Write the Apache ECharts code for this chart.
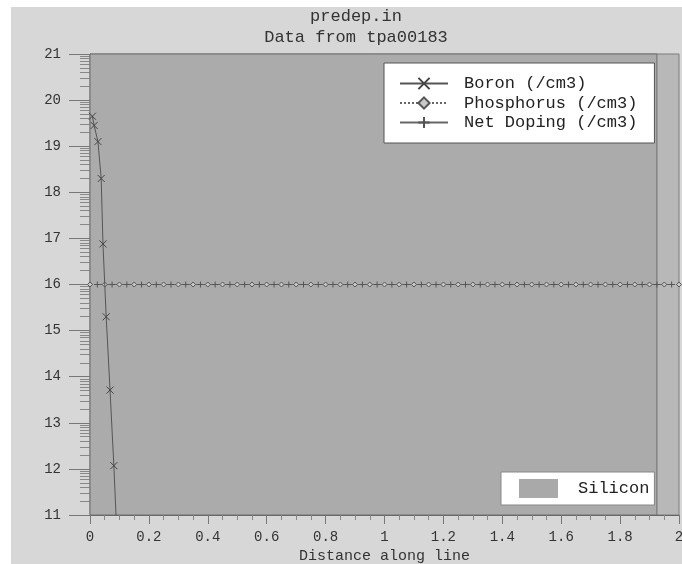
<!DOCTYPE html>
<html>
<head>
<meta charset="utf-8">
<script src="https://cdn.jsdelivr.net/npm/echarts@6/dist/echarts.min.js"></script>
<style>
html,body{margin:0;padding:0;background:#ffffff;width:682px;height:564px;overflow:hidden;}
#chart{position:absolute;left:11px;top:7px;width:671px;height:557px;background:#d7d7d7;}
</style>
</head>
<body>
<div id="chart"></div>
<script>
// ---- data ----
const titleLines = ['predep.in', 'Data from tpa00183'];
const xTicks = [0, 0.2, 0.4, 0.6, 0.8, 1, 1.2, 1.4, 1.6, 1.8, 2];
const yTicks = [11, 12, 13, 14, 15, 16, 17, 18, 19, 20, 21];
const boronX = [0.008, 0.014, 0.027, 0.038, 0.044, 0.055, 0.068, 0.081, 0.091];
const boronY = [19.65, 19.45, 19.10, 18.30, 16.88, 15.30, 13.71, 12.07, 10.60];
const phosX = [0, 0.05, 0.1, 0.15, 0.2, 0.25, 0.3, 0.35, 0.4, 0.45, 0.5, 0.55, 0.6, 0.65, 0.7, 0.75, 0.8, 0.85, 0.9, 0.95, 1, 1.05, 1.1, 1.15, 1.2, 1.25, 1.3, 1.35, 1.4, 1.45, 1.5, 1.55, 1.6, 1.65, 1.7, 1.75, 1.8, 1.85, 1.9, 1.95, 2];
const phosY = [16, 16, 16, 16, 16, 16, 16, 16, 16, 16, 16, 16, 16, 16, 16, 16, 16, 16, 16, 16, 16, 16, 16, 16, 16, 16, 16, 16, 16, 16, 16, 16, 16, 16, 16, 16, 16, 16, 16, 16, 16];
const netX = [0.025, 0.075, 0.125, 0.175, 0.225, 0.275, 0.325, 0.375, 0.425, 0.475, 0.525, 0.575, 0.625, 0.675, 0.725, 0.775, 0.825, 0.875, 0.925, 0.975, 1.025, 1.075, 1.125, 1.175, 1.225, 1.275, 1.325, 1.375, 1.425, 1.475, 1.525, 1.575, 1.625, 1.675, 1.725, 1.775, 1.825, 1.875, 1.925, 1.975];
const netY = [16, 16, 16, 16, 16, 16, 16, 16, 16, 16, 16, 16, 16, 16, 16, 16, 16, 16, 16, 16, 16, 16, 16, 16, 16, 16, 16, 16, 16, 16, 16, 16, 16, 16, 16, 16, 16, 16, 16, 16];
const siliconRange = [0, 1.925];
const seriesNames = ['Boron (/cm3)', 'Phosphorus (/cm3)', 'Net Doping (/cm3)'];
const regionName = 'Silicon';

// ---- build ----
const zip = (xs, ys) => xs.map((x, i) => [x, ys[i]]);
// log-decade minor tick positions (axis decoration)
const yMinor = [];
for (let d = yTicks[0]; d < yTicks[yTicks.length - 1]; d++) {
  for (let k = 2; k <= 9; k++) yMinor.push(d + Math.log10(k));
}
const FONT = '"Liberation Mono", "DejaVu Sans Mono", monospace';
const ink = '#333';
const lineCol = '#555';
const X_SYM = 'path://M0,0L10,10M10,0L0,10';
const PLUS_SYM = 'path://M5,0L5,10M0,5L10,5';

const chart = echarts.init(document.getElementById('chart'), null, {renderer: 'canvas'});
chart.setOption({
  backgroundColor: 'transparent',
  animation: false,
  title: {
    text: titleLines.join('\n'),
    left: 345, top: -1, textAlign: 'center', padding: 0,
    textStyle: {fontFamily: FONT, fontSize: 17, fontWeight: 'normal', color: ink, lineHeight: 21}
  },
  grid: {
    left: 79, top: 47, right: 3, bottom: 49,
    outerBoundsMode: 'none', containLabel: false,
    show: true, backgroundColor: '#b8b8b8', borderColor: '#7a7a7a', borderWidth: 1
  },
  legend: [{
    data: seriesNames,
    orient: 'vertical',
    left: 373, top: 56,
    padding: [12, 17, 12, 15],
    itemGap: 2.5,
    itemWidth: 48, itemHeight: 14,
    backgroundColor: '#ffffff',
    borderColor: '#555', borderWidth: 1,
    selectedMode: false,
    textStyle: {fontFamily: FONT, fontSize: 17, color: '#222', padding: [0, 0, 0, 11]}
  }, {
    data: [{name: regionName, icon: 'rect'}],
    orient: 'vertical',
    left: 490, top: 465,
    padding: [7, 5, 7, 18],
    itemWidth: 39, itemHeight: 19,
    backgroundColor: '#ffffff',
    borderColor: '#888', borderWidth: 1,
    selectedMode: false,
    textStyle: {fontFamily: FONT, fontSize: 17, color: '#222', padding: [0, 0, 0, 15]}
  }],
  xAxis: {
    type: 'value', min: xTicks[0], max: xTicks[xTicks.length - 1], interval: 0.2,
    name: 'Distance along line', nameLocation: 'middle', nameGap: 34,
    nameTextStyle: {fontFamily: FONT, fontSize: 15, color: ink},
    axisLine: {show: true, onZero: false, lineStyle: {color: '#666'}},
    axisTick: {show: true, inside: false, length: 9, lineStyle: {color: '#777'}},
    minorTick: {show: true, splitNumber: 4, length: 5, lineStyle: {color: '#888'}},
    splitLine: {show: false},
    axisLabel: {fontFamily: FONT, fontSize: 14, color: ink, margin: 15, showMaxLabel: true, showMinLabel: true}
  },
  yAxis: [{
    type: 'value', min: yTicks[0], max: yTicks[yTicks.length - 1], interval: 1,
    axisLine: {show: true, onZero: false, lineStyle: {color: '#666'}},
    axisTick: {show: true, length: 21, lineStyle: {color: '#777'}},
    splitLine: {show: false},
    axisLabel: {fontFamily: FONT, fontSize: 14, color: ink, margin: 29}
  }, {
    type: 'value', min: yTicks[0], max: yTicks[yTicks.length - 1], position: 'left',
    axisLine: {show: false},
    axisTick: {show: true, length: 10, customValues: yMinor, lineStyle: {color: '#888'}},
    axisLabel: {show: false},
    splitLine: {show: false}
  }],
  series: [{
    name: regionName, type: 'line', data: [], yAxisIndex: 0,
    itemStyle: {color: '#a9a9a9'},
    lineStyle: {color: '#a9a9a9'},
    silent: true, z: 1,
    markArea: {
      silent: true,
      itemStyle: {color: '#ababab', borderColor: '#6f6f6f', borderWidth: 1},
      data: [[{xAxis: siliconRange[0]}, {xAxis: siliconRange[1]}]]
    }
  }, {
    name: seriesNames[1], type: 'line', data: zip(phosX, phosY),
    symbol: 'diamond', symbolSize: 5, showSymbol: true, clip: true,
    lineStyle: {color: '#666', width: 1, type: 'dotted'},
    itemStyle: {color: '#c8c8c8', borderColor: '#555', borderWidth: 1},
    z: 3
  }, {
    name: seriesNames[2], type: 'line', data: zip(netX, netY),
    symbol: PLUS_SYM, symbolSize: 6, showSymbol: true, clip: true,
    lineStyle: {color: '#666', width: 1},
    itemStyle: {color: 'transparent', borderColor: '#555', borderWidth: 1},
    z: 3
  }, {
    name: seriesNames[0], type: 'line', data: zip(boronX, boronY),
    symbol: X_SYM, symbolSize: 7, showSymbol: true, clip: true,
    lineStyle: {color: lineCol, width: 1},
    itemStyle: {color: 'transparent', borderColor: '#444', borderWidth: 1},
    z: 4
  }]
});
</script>
</body>
</html>
